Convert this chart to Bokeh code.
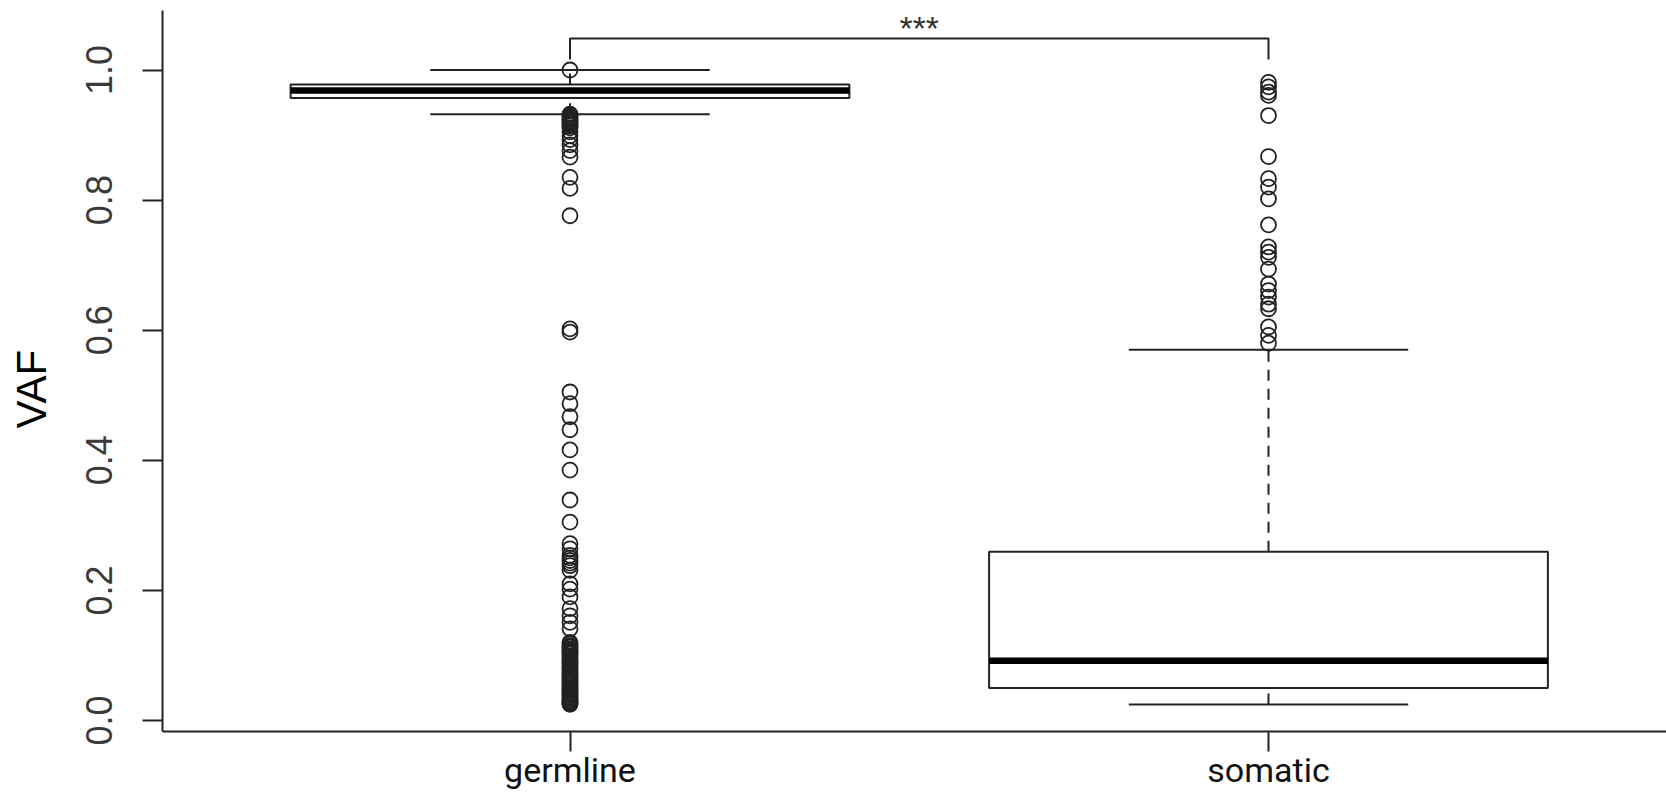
import math
from bokeh.plotting import figure
from bokeh.models import Range1d, FixedTicker, ColumnDataSource, Title
from bokeh.embed import file_html
from bokeh.resources import INLINE
from bokeh.core.properties import value

# ---- data ----
groups = ["germline", "somatic"]
positions = [1, 2]
q1 = [0.957, 0.050]
median = [0.9685, 0.092]
q3 = [0.9777, 0.2596]
whisker_low = [0.932, 0.0246]
whisker_high = [1.0, 0.570]

germline_outliers = [1.0,
    0.932, 0.930, 0.928, 0.926, 0.924, 0.922, 0.920, 0.918, 0.916, 0.914, 0.911,
    0.905, 0.899, 0.893, 0.885, 0.876, 0.866, 0.835, 0.818, 0.776,
    0.602, 0.597, 0.505, 0.487, 0.467, 0.447, 0.416, 0.385, 0.339, 0.305,
    0.272, 0.264, 0.254, 0.250, 0.246, 0.242, 0.238, 0.231, 0.210, 0.202, 0.190,
    0.172, 0.161, 0.151, 0.141,
    0.120, 0.118, 0.115, 0.113, 0.110, 0.108, 0.106, 0.104, 0.102, 0.099,
    0.097, 0.094, 0.092, 0.090, 0.088, 0.086, 0.083, 0.081, 0.079, 0.077,
    0.074, 0.072, 0.070, 0.068, 0.066, 0.063, 0.061, 0.059, 0.057, 0.055,
    0.052, 0.050, 0.048, 0.046, 0.044, 0.042, 0.040, 0.038, 0.036, 0.034,
    0.032, 0.030, 0.029, 0.027, 0.026, 0.025]
somatic_outliers = [0.981, 0.974, 0.966, 0.961, 0.930, 0.867, 0.833, 0.820, 0.802,
    0.762, 0.728, 0.720, 0.712, 0.694, 0.671, 0.661, 0.651, 0.640, 0.633,
    0.605, 0.592, 0.580]

y_ticks = [0.0, 0.2, 0.4, 0.6, 0.8, 1.0]
y_tick_labels = ["0.0", "0.2", "0.4", "0.6", "0.8", "1.0"]
y_title = "VAF"
sig_text = "***"
bracket_y = 1.0484
bracket_tip = 1.016

# ---- figure ----
p = figure(width=1666, height=795, output_backend="svg", toolbar_location=None,
           x_range=Range1d(0.4166, 2.5698), y_range=Range1d(-0.0169, 1.0915),
           min_border_left=162, min_border_right=0, min_border_top=10, min_border_bottom=64)
p.outline_line_color = None
p.background_fill_color = "white"
p.xgrid.visible = False
p.ygrid.visible = False

ink = "#222222"
# y axis
ya = p.yaxis[0]
ya.ticker = FixedTicker(ticks=y_ticks)
ya.major_label_overrides = {t: l for t, l in zip(y_ticks, y_tick_labels)}
ya.major_label_orientation = "parallel"
ya.major_label_text_font = "Liberation Sans"
ya.major_label_text_font_size = "36px"
ya.major_label_text_color = "#3a3a3a"
ya.major_label_standoff = 30
ya.major_tick_out = 20
ya.major_tick_in = 0
ya.minor_tick_out = 0
ya.minor_tick_in = 0
ya.axis_line_width = 2
ya.axis_line_color = ink
ya.major_tick_line_width = 2
ya.major_tick_line_color = ink
# blank axis label used only as spacing between tick labels and the title
ya.axis_label = " "
ya.axis_label_text_font_size = "1px"
ya.axis_label_standoff = 25

# x axis
xa = p.xaxis[0]
xa.ticker = FixedTicker(ticks=positions)
xa.major_label_overrides = {pos: g for pos, g in zip(positions, groups)}
xa.major_label_text_font = "Roboto"
xa.major_label_text_font_size = "34px"
xa.major_label_text_color = "#111111"
xa.major_label_standoff = -2
xa.major_tick_out = 20
xa.major_tick_in = 0
xa.minor_tick_out = 0
xa.minor_tick_in = 0
xa.axis_line_width = 2
xa.axis_line_color = ink
xa.major_tick_line_width = 2
xa.major_tick_line_color = ink

# ---- boxes ----
box_half = 0.4
staple_half = 0.2
src = ColumnDataSource(dict(
    pos=positions, q1=q1, q3=q3, med=median, lo=whisker_low, hi=whisker_high,
    left=[x - box_half for x in positions], right=[x + box_half for x in positions],
    sl=[x - staple_half for x in positions], sr=[x + staple_half for x in positions]))

p.segment(x0="pos", y0="q3", x1="pos", y1="hi", source=src, line_color=ink,
          line_width=2, line_dash="11 8")
p.segment(x0="pos", y0="lo", x1="pos", y1="q1", source=src, line_color=ink,
          line_width=2, line_dash="11 8")
p.segment(x0="sl", y0="hi", x1="sr", y1="hi", source=src, line_color=ink, line_width=2)
p.segment(x0="sl", y0="lo", x1="sr", y1="lo", source=src, line_color=ink, line_width=2)
p.quad(left="left", right="right", bottom="q1", top="q3", source=src,
       fill_color="white", line_color=ink, line_width=2)
p.segment(x0="left", y0="med", x1="right", y1="med", source=src, line_color="black",
          line_width=6.5)

# outliers
ox = [positions[0]] * len(germline_outliers) + [positions[1]] * len(somatic_outliers)
oy = germline_outliers + somatic_outliers
p.scatter(ox, oy, marker="circle", size=15, fill_color=None, line_color=ink, line_width=1.8)

# significance bracket
p.line(x=[positions[0], positions[0], positions[1], positions[1]],
       y=[bracket_tip, bracket_y, bracket_y, bracket_tip], line_color=ink, line_width=2)
p.text(x=[sum(positions) / 2], y=[bracket_y], text=[sig_text], text_align="center",
       text_baseline="alphabetic", y_offset=-11, text_font=value("Liberation Sans"),
       text_font_size="34px", text_color="#333333")

# y title
p.add_layout(Title(text=y_title, align="left", offset=303, vertical_align="bottom",
                   text_font="Liberation Sans", text_font_size="42px",
                   text_font_style="normal", text_color="black", standoff=0), "left")

open("out.html", "w").write(file_html(p, INLINE))
